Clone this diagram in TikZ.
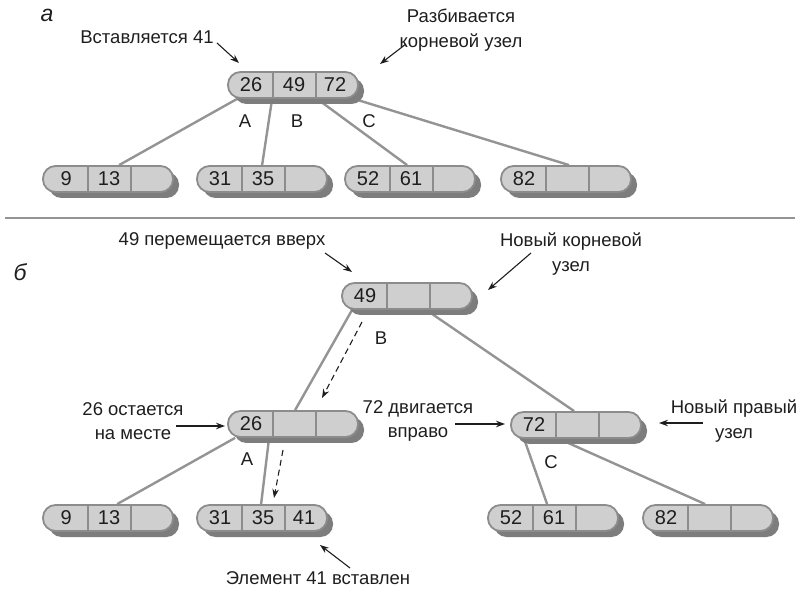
\documentclass[tikz,border=0pt]{standalone}
\usepackage{fontspec}
\setmainfont{Liberation Sans}
\usetikzlibrary{shadows,arrows.meta,backgrounds}

\definecolor{cellgray}{RGB}{207,207,207}
\definecolor{edgegray}{RGB}{140,140,140}
\definecolor{shadowgray}{RGB}{125,125,125}
\definecolor{linkgray}{RGB}{148,148,148}
\definecolor{inkc}{RGB}{30,30,30}

\tikzset{
  pill/.style={draw=edgegray, line width=1.8pt, fill=cellgray,
    rounded corners=12.5pt, minimum width=130pt, minimum height=26pt,
    inner sep=0pt,
    drop shadow={shadow xshift=6pt, shadow yshift=-6pt, fill=shadowgray, opacity=1}},
  cellsep/.style={draw=edgegray, line width=1.8pt},
  keytext/.style={font=\fontsize{20}{22}\selectfont, text=inkc, inner sep=0pt},
  lbl/.style={font=\fontsize{18.5}{24.5}\selectfont, text=inkc, align=center, inner sep=0pt},
  partlbl/.style={font=\itshape\fontsize{23}{25}\selectfont, text=inkc, inner sep=0pt},
  link/.style={draw=linkgray, line width=2.4pt},
  pointer/.style={draw=inkc, line width=1.1pt, -{Stealth[length=9pt,width=6.5pt]}},
  movearrow/.style={draw=inkc, line width=1.1pt, dash pattern=on 6pt off 4pt,
    -{Stealth[length=9pt,width=6.5pt]}},
}

% B-tree node: name, left x, top y, three keys
\newcommand\btnode[6]{%
  \node[pill] (#1) at (#2+65,#3+13) {};
  \draw[cellsep] ([xshift=46pt]#1.north west) -- ([xshift=46pt]#1.south west);
  \draw[cellsep] ([xshift=89pt]#1.north west) -- ([xshift=89pt]#1.south west);
  \node[keytext] (#1-k1) at ([xshift=24pt,yshift=0.5pt]#1.west) {#4};
  \node[keytext] (#1-k2) at ([xshift=67pt,yshift=0.5pt]#1.west) {#5};
  \node[keytext] (#1-k3) at ([xshift=108pt,yshift=0.5pt]#1.west) {#6};
}

\begin{document}
\begin{tikzpicture}[x=1pt,y=-1pt]
\useasboundingbox (0,0) rectangle (801,593);

% ---------- part a ----------
\node[partlbl] (pa) at (47,15) {а};
\btnode{ar}{228}{72}{26}{49}{72}
\btnode{al1}{43}{166}{9}{13}{}
\btnode{al2}{197}{166}{31}{35}{}
\btnode{al3}{345}{166}{52}{61}{}
\btnode{al4}{501}{166}{82}{}{}

\begin{scope}[on background layer]
  \draw[link] ([xshift=10pt]ar.south west) -- ([xshift=77pt]al1.north west);
  \draw[link] ([xshift=45pt]ar.south west) -- ([xshift=66pt]al2.north west);
  \draw[link] ([xshift=90pt]ar.south west) -- ([xshift=63pt]al3.north west);
  \draw[link] ([xshift=127pt]ar.south west) -- ([xshift=69pt]al4.north west);
\end{scope}

\node[lbl] (aA) at (245,121) {A};
\node[lbl] (aB) at (297,121) {B};
\node[lbl] (aC) at (369,121) {C};

\node[lbl] (ains) at (147,37) {Вставляется 41};
\node[lbl] (asplit) at (461,30) {Разбивается\\корневой узел};
\coordinate (ains-t) at (217,43);
\coordinate (ains-h) at (239,63);
\coordinate (asplit-t) at (406,44);
\coordinate (asplit-h) at (380,64);
\draw[pointer] (ains-t) -- (ains-h);
\draw[pointer] (asplit-t) -- (asplit-h);

% separator between the two parts
\coordinate (sepL) at (5,218);
\coordinate (sepR) at (795,218);
\draw[draw=linkgray, line width=2pt] (sepL) -- (sepR);

% ---------- part b ----------
\node[partlbl] (pb) at (20,272) {б};
\btnode{br}{342}{283}{49}{}{}
\btnode{bm1}{228}{411}{26}{}{}
\btnode{bm2}{511}{412}{72}{}{}
\btnode{bl1}{43}{505}{9}{13}{}
\btnode{bl2}{197}{505}{31}{35}{41}
\btnode{bl3}{488}{505}{52}{61}{}
\btnode{bl4}{643}{505}{82}{}{}

\begin{scope}[on background layer]
  \draw[link] ([xshift=11pt]br.south west) -- ([xshift=68pt]bm1.north west);
  \draw[link] ([xshift=85pt]br.south west) -- ([xshift=64pt]bm2.north west);
  \draw[link] ([xshift=8pt]bm1.south west) -- ([xshift=75pt]bl1.north west);
  \draw[link] ([xshift=42pt]bm1.south west) -- ([xshift=65pt]bl2.north west);
  \draw[link] ([xshift=14pt]bm2.south west) -- ([xshift=60pt]bl3.north west);
  \draw[link] ([xshift=49pt]bm2.south west) -- ([xshift=63pt]bl4.north west);
\end{scope}

\coordinate (mvB-t) at (362,322);
\coordinate (mvB-h) at (322,398);
\coordinate (mvA-t) at (283,450);
\coordinate (mvA-h) at (274,498);
\draw[movearrow] (mvB-t) -- (mvB-h);
\draw[movearrow] (mvA-t) -- (mvA-h);

\node[lbl] (bB) at (381,338) {B};
\node[lbl] (bA) at (247,459) {A};
\node[lbl] (bC) at (551,462) {C};

\node[lbl] (bup) at (222,241) {49 перемещается вверх};
\node[lbl] (bnewroot) at (571,254) {Новый корневой\\узел};
\node[lbl] (bstay) at (133,421) {26 остается\\на месте};
\node[lbl] (bright) at (418,421) {72 двигается\\вправо};
\node[lbl] (bnewright) at (734,421) {Новый правый\\узел};
\node[lbl] (bins) at (318,578) {Элемент 41 вставлен};

\coordinate (bup-t) at (325,253);
\coordinate (bup-h) at (352,272);
\coordinate (bnr-t) at (531,253);
\coordinate (bnr-h) at (488,290);
\coordinate (bst-t) at (176,426);
\coordinate (bst-h) at (225,426);
\coordinate (brt-t) at (455,424);
\coordinate (brt-h) at (505,424);
\coordinate (bnw-t) at (703,423);
\coordinate (bnw-h) at (659,423);
\coordinate (bin-t) at (350,568);
\coordinate (bin-h) at (320,545);
\draw[pointer] (bup-t) -- (bup-h);
\draw[pointer] (bnr-t) -- (bnr-h);
\draw[pointer] (bst-t) -- (bst-h);
\draw[pointer] (brt-t) -- (brt-h);
\draw[pointer] (bnw-t) -- (bnw-h);
\draw[pointer] (bin-t) -- (bin-h);
\end{tikzpicture}
\end{document}
